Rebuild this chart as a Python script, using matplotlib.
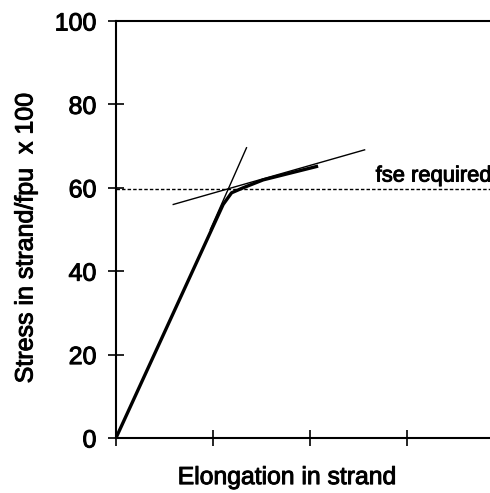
import matplotlib
matplotlib.use('Agg')
from matplotlib import pyplot as plt
import matplotlib.patheffects as pe

plt.rcParams['font.family'] = ['Liberation Sans', 'DejaVu Sans']

# stress-elongation curve of the strand (elongation in tick units, stress in % of fpu)
curve_x = [0.0, 1.106, 1.193, 1.312, 1.519, 2.086]
curve_y = [0.0, 56.0, 58.8, 60.0, 61.9, 65.2]

# tangents drawn to find the knee
steep_x = [0.974, 1.347]
steep_y = [50.0, 69.6]
flat_x = [0.591, 2.566]
flat_y = [56.0, 69.1]

fse_required = 59.6
x_ticks = [0, 1, 2, 3]
y_ticks = [0, 20, 40, 60, 80, 100]

# slightly heavier lettering
heavy = [pe.withStroke(linewidth=0.7, foreground='black')]

fig = plt.figure(figsize=(4.9, 4.93), dpi=100)
ax = fig.add_axes([0.2367, 0.1116, 0.7633, 0.8458])

ax.plot(curve_x, curve_y, color='black', lw=2.4, solid_capstyle='butt')
ax.plot(steep_x, steep_y, color='black', lw=1.0)
ax.plot(flat_x, flat_y, color='black', lw=1.0)
ax.axhline(fse_required, color='black', lw=1.0, ls=(0, (2.5, 1.5)))
ax.text(2.68, 61.5, 'fse required', fontsize=15.8, va='baseline', ha='left',
        clip_on=False, path_effects=heavy)

ax.set_xlim(0, 3.86)
ax.set_ylim(0, 100)
ax.set_xticks(x_ticks)
ax.set_xticklabels([])
ax.set_yticks(y_ticks)
ax.tick_params(axis='both', direction='inout', length=12, width=1.2, labelsize=18, pad=8)
for lbl in ax.get_yticklabels():
    lbl.set_path_effects(heavy)
ax.spines['right'].set_visible(False)
for s in ['left', 'bottom', 'top']:
    ax.spines[s].set_linewidth(1.5)

ax.set_ylabel('Stress in strand/fpu  x 100', fontsize=18, path_effects=heavy)
ax.yaxis.set_label_coords(-0.21, 0.48)
ax.set_xlabel('Elongation in strand', fontsize=17.8, path_effects=heavy)
ax.xaxis.set_label_coords(0.457, -0.065)

fig.savefig('out.png', dpi=100)
